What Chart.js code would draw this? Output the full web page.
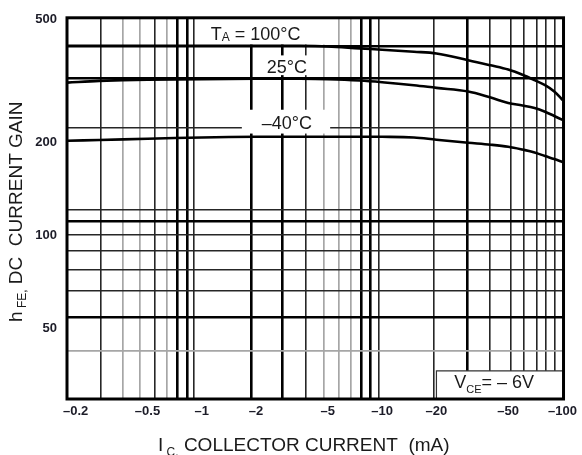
<!DOCTYPE html>
<html>
<head>
<meta charset="utf-8">
<title>DC current gain vs collector current</title>
<script src="https://cdn.jsdelivr.net/npm/chart.js@4.4.0/dist/chart.umd.min.js"></script>
<style>
  html, body { margin: 0; padding: 0; background: #fff; }
  #wrap { position: relative; width: 582px; height: 455px; }
</style>
</head>
<body>
<div id="wrap"><canvas id="gain"></canvas></div>
<script>
// collector current magnitude (mA), shared by the three curves
var current = [0.18, 0.27, 0.5, 1, 2, 3.5, 5, 7.5, 10, 15, 20, 30, 40, 50, 60, 70, 80, 90, 100];
var gain100 = [412, 412, 412, 412, 412, 412, 410, 404, 400, 394, 389, 370, 356, 345, 332, 319, 307, 293, 275];
var gain25 = [313, 317, 320, 321, 322, 322, 321, 318, 314, 307, 301, 293, 280, 269, 264, 259, 252, 244, 237];
var gainM40 = [203, 204, 206, 208, 209, 209, 209, 209, 209, 208, 204.5, 200, 197, 194, 190, 186, 181, 177, 173];

var xTickLabels = [0.2, 0.5, 1, 2, 5, 10, 20, 50, 100];
var yTickLabels = [50, 100, 200, 500];

// the scanned grid is not a clean log grid, lines are listed as read off
var xGridHeavy = [0.732, 0.831, 1.872, 2.80, 7.65, 8.63, 29.6];
var xGridMid = [0.274, 0.552, 0.905, 3.76, 9.58, 19.42, 39.5, 51.8, 60.8, 72.0, 81.1, 90.9];
var xGridLight = [0.364, 0.451, 0.637, 4.77, 5.75, 6.74];
var yGridHeavy = [411.8, 324.3, 111.1, 54.4];
var yGridMid = [222.7, 121.1, 100.7, 89.1, 77.4, 66.3];
var yGridLight = [42.3];

var FONT = '"Liberation Sans", Arial, sans-serif';

function gridOpts(heavy, mid, light) {
    function kind(ctx) {
        var v = ctx.tick ? ctx.tick.value : null;
        if (heavy.indexOf(v) >= 0) return 'h';
        if (mid.indexOf(v) >= 0) return 'm';
        if (light.indexOf(v) >= 0) return 'l';
        return '';
    }
    return {
        drawTicks: false,
        color: function(ctx) {
            var k = kind(ctx);
            return k == 'h' ? '#000' : k == 'm' ? '#262626' : k == 'l' ? '#a6a6a6' : 'rgba(0,0,0,0)';
        },
        lineWidth: function(ctx) {
            var k = kind(ctx);
            return k == 'h' ? 2.6 : k == 'm' ? 1.6 : k == 'l' ? 1.7 : 0;
        }
    };
}

function tickBuilder(lists) {
    return function(axis) {
        var vals = [].concat.apply([], lists).sort(function(a, b) { return a - b; });
        axis.ticks = vals.map(function(v) { return { value: v }; });
    };
}

// draws a run of text pieces (some as subscripts) starting at x
function drawRun(ctx, parts, x, y, align) {
    var w = 0;
    parts.forEach(function(p) { ctx.font = p[1] + 'px ' + FONT; w += ctx.measureText(p[0]).width; });
    if (align == 'center') x -= w / 2;
    parts.forEach(function(p) {
        ctx.font = p[1] + 'px ' + FONT;
        ctx.fillText(p[0], x, y + (p[2] || 0));
        x += ctx.measureText(p[0]).width;
    });
}

var notes = {
    id: 'notes',
    beforeDatasetsDraw: function(chart) {
        var c = chart.ctx, xs = chart.scales.x, ys = chart.scales.y, a = chart.chartArea;
        // white patches behind the curve labels
        var boxes = [[0.931, 5.35, 415.7, 507.4], [2.20, 4.0, 330.9, 383.4], [1.668, 5.15, 214.1, 255.7], [20.0, 101.3, 29.6, 36.5]];
        c.save();
        c.fillStyle = '#fff';
        boxes.forEach(function(b) {
            var x1 = xs.getPixelForValue(b[0]), x2 = xs.getPixelForValue(b[1]);
            var y1 = ys.getPixelForValue(b[3]), y2 = ys.getPixelForValue(b[2]);
            c.fillRect(x1, y1, x2 - x1, y2 - y1);
        });
        // outline of the V_CE box
        var vx = xs.getPixelForValue(20.0), vy = ys.getPixelForValue(36.5);
        c.strokeStyle = '#333';
        c.lineWidth = 1.2;
        c.beginPath();
        c.moveTo(vx, a.bottom);
        c.lineTo(vx, vy);
        c.lineTo(a.right, vy);
        c.stroke();
        c.restore();
    },
    afterDatasetsDraw: function(chart) {
        var c = chart.ctx, xs = chart.scales.x, ys = chart.scales.y, a = chart.chartArea;
        c.save();
        c.fillStyle = '#1a1a1a';
        c.textBaseline = 'alphabetic';
        drawRun(c, [['T', 18], ['A', 12, 1], [' = 100\u00b0C', 18]], xs.getPixelForValue(1.99), ys.getPixelForValue(429.3), 'center');
        drawRun(c, [['25\u00b0C', 18]], xs.getPixelForValue(2.96), ys.getPixelForValue(335.7), 'center');
        drawRun(c, [['\u201340\u00b0C', 18]], xs.getPixelForValue(2.96), ys.getPixelForValue(221), 'center');
        drawRun(c, [['V', 18], ['CE', 11, 5], ['= \u2013 6V', 18]], xs.getPixelForValue(25.1), ys.getPixelForValue(32.2), 'left');

        // frame
        c.strokeStyle = '#000';
        c.lineWidth = 3;
        c.strokeRect(a.left, a.top, a.right - a.left, a.bottom - a.top);

        // axis titles
        drawRun(c, [['I', 19], [' C,', 12, 5], [' COLLECTOR CURRENT  (mA)', 19]], a.left + 91, a.bottom + 52, 'left');
        c.translate(a.left - 45, a.bottom - 77);
        c.rotate(-Math.PI / 2);
        drawRun(c, [['h', 19], [' FE,', 12, 4], [' DC  CURRENT GAIN', 19]], 0, 0, 'left');
        c.restore();
    }
};

var tickFont = { family: FONT, size: 13, weight: 'bold' };

new Chart(document.getElementById('gain'), {
    type: 'line',
    data: {
        datasets: [gain100, gain25, gainM40].map(function(g) {
            return {
                data: current.map(function(c, i) { return { x: c, y: g[i] }; }),
                borderColor: '#000',
                borderWidth: 2.6,
                pointRadius: 0,
                fill: false,
                tension: 0.35
            };
        })
    },
    options: {
        responsive: true,
        maintainAspectRatio: false,
        animation: false,
        layout: { padding: { top: 14, right: 15, left: 0, bottom: 0 } },
        plugins: { legend: { display: false }, tooltip: { enabled: false } },
        scales: {
            x: {
                type: 'logarithmic',
                min: 0.179,
                max: 101.3,
                afterBuildTicks: tickBuilder([xGridHeavy, xGridMid, xGridLight, xTickLabels]),
                afterFit: function(s) { s.height = 56; },
                border: { display: false },
                grid: gridOpts(xGridHeavy, xGridMid, xGridLight),
                ticks: {
                    autoSkip: false,
                    maxRotation: 0,
                    padding: 5,
                    color: '#1c1c28',
                    font: tickFont,
                    callback: function(v) { return xTickLabels.indexOf(v) >= 0 ? '\u2013' + v : ''; }
                }
            },
            y: {
                type: 'logarithmic',
                min: 29.6,
                max: 507.4,
                afterBuildTicks: tickBuilder([yGridHeavy, yGridMid, yGridLight, yTickLabels]),
                afterFit: function(s) { s.width = 67; },
                border: { display: false },
                grid: gridOpts(yGridHeavy, yGridMid, yGridLight),
                ticks: {
                    autoSkip: false,
                    padding: 10,
                    color: '#1c1c28',
                    font: tickFont,
                    callback: function(v) { return yTickLabels.indexOf(v) >= 0 ? String(v) : ''; }
                }
            }
        }
    },
    plugins: [notes]
});
</script>
</body>
</html>
